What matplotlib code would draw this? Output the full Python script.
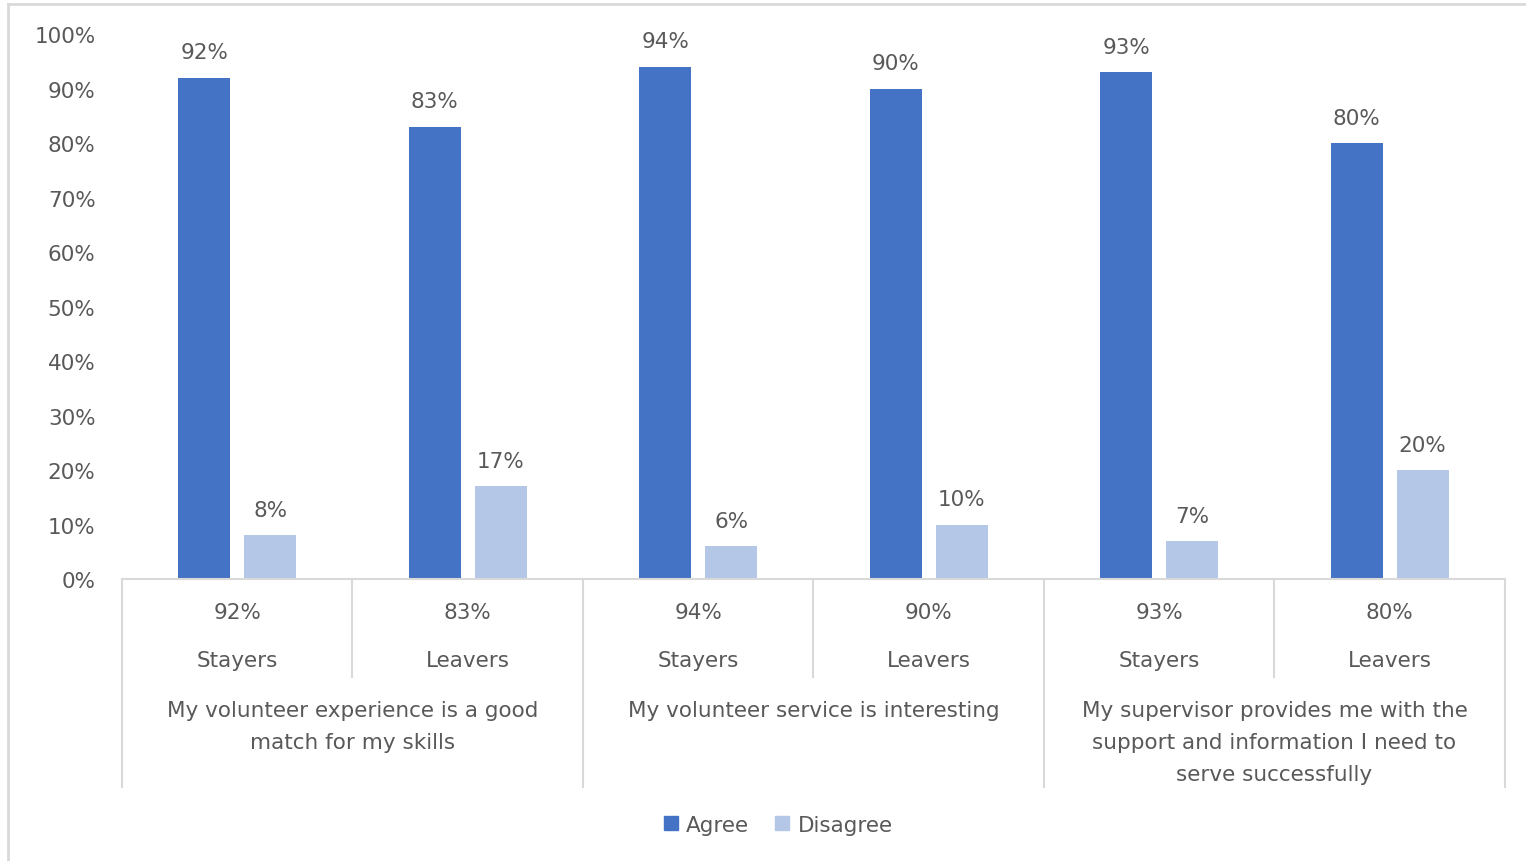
import matplotlib.pyplot as plt
import numpy as np
from matplotlib.lines import Line2D
from matplotlib.patches import Patch
import matplotlib.transforms as mtransforms

plt.rcParams['font.family'] = ['DejaVu Sans']

# survey results, one entry per bar group
groups = ["Stayers", "Leavers", "Stayers", "Leavers", "Stayers", "Leavers"]
questions = ["My volunteer experience is a good\nmatch for my skills",
             "My volunteer service is interesting",
             "My supervisor provides me with the\nsupport and information I need to\nserve successfully"]
agree = [92, 83, 94, 90, 93, 80]
disagree = [8, 17, 6, 10, 7, 20]
yticks = [0, 10, 20, 30, 40, 50, 60, 70, 80, 90, 100]

c_agree = "#4472C4"
c_disagree = "#B4C7E7"
c_text = "#595959"
c_line = "#D9D9D9"
fs = 15.5

fig = plt.figure(figsize=(15.26, 8.62), dpi=100)
ax = fig.add_axes([0.0799, 0.3271, 0.9063, 0.6323])

x = np.arange(len(groups))
w = 0.226
off = 0.143
b1 = ax.bar(x - off, np.array(agree) / 100, w, color=c_agree)
b2 = ax.bar(x + off, np.array(disagree) / 100, w, color=c_disagree)

for bars, vals in ((b1, agree), (b2, disagree)):
    for r, v in zip(bars, vals):
        ax.annotate(f"{v}%", (r.get_x() + r.get_width() / 2, r.get_height()),
                    xytext=(0, 11), textcoords="offset points",
                    ha="center", va="bottom", fontsize=fs, color=c_text)

ax.set_xlim(-0.5, len(groups) - 0.5)
ax.set_ylim(0, 1)
ax.set_yticks([t / 100 for t in yticks])
ax.set_yticklabels([f"{t}%" for t in yticks], fontsize=fs, color=c_text)
ax.tick_params(axis="y", length=0, pad=19)
ax.set_xticks([])
for s in ("top", "right", "left"):
    ax.spines[s].set_visible(False)
ax.spines["bottom"].set_color(c_line)
ax.spines["bottom"].set_linewidth(1.5)

# table-style category axis under the bars
tr = mtransforms.blended_transform_factory(ax.transData, ax.transAxes)
for i in range(len(groups)):
    ax.text(i, -0.0606, f"{agree[i]}%", transform=tr, ha="center", va="center",
            fontsize=fs, color=c_text)
    ax.text(i, -0.1486, groups[i], transform=tr, ha="center", va="center",
            fontsize=fs, color=c_text)
for j, q in enumerate(questions):
    ax.text(2 * j + 0.5, -0.222, q, transform=tr, ha="center", va="top",
            fontsize=fs, color=c_text, linespacing=1.75)

for k in range(len(groups) + 1):
    xb = k - 0.5
    bottom = -0.382 if k % 2 == 0 else -0.180
    ax.plot([xb, xb], [0, bottom], transform=tr, color=c_line, lw=1.5,
            clip_on=False)

handles = [Patch(color=c_agree, label="Agree"),
           Patch(color=c_disagree, label="Disagree")]
leg = fig.legend(handles=handles, loc="center", bbox_to_anchor=(0.51, 0.042),
                 ncol=2, frameon=False, fontsize=fs, handlelength=0.65,
                 handleheight=0.65, handletextpad=0.4, columnspacing=1.2)
for t in leg.get_texts():
    t.set_color(c_text)

# light frame around the chart area
fig.add_artist(Line2D([8 / 1526, 8 / 1526], [0, 1 - 5 / 862],
                      transform=fig.transFigure, color=c_line, lw=2))
fig.add_artist(Line2D([8 / 1526, 1], [1 - 5 / 862, 1 - 5 / 862],
                      transform=fig.transFigure, color=c_line, lw=2))

fig.savefig("out.png", dpi=100)
